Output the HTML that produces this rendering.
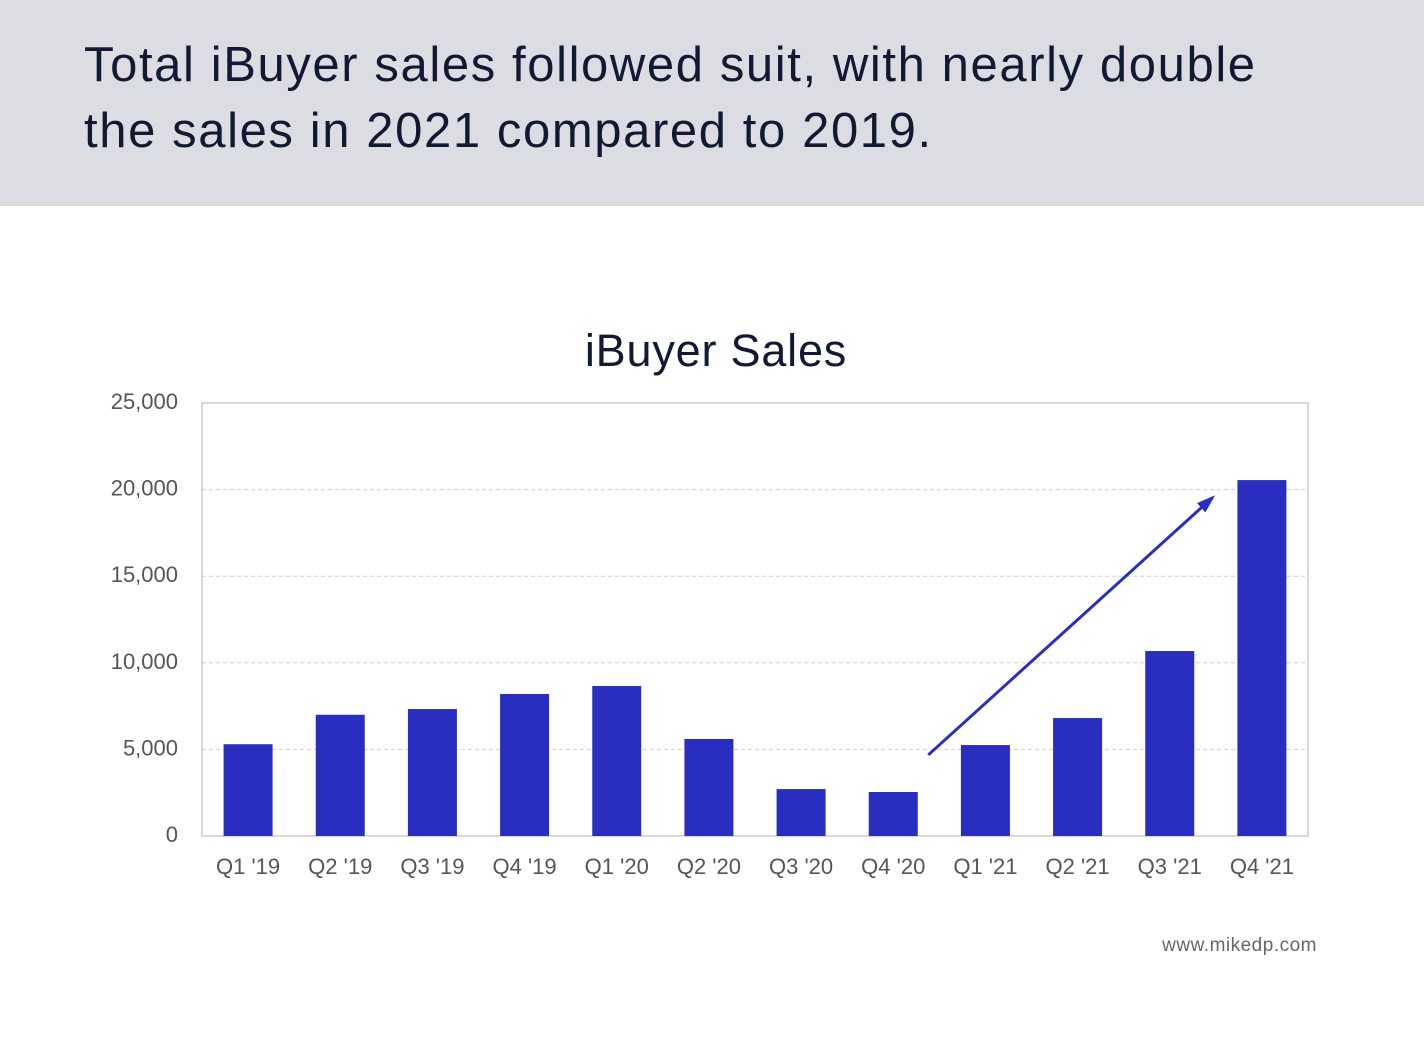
<!DOCTYPE html>
<html><head><meta charset="utf-8"><style>
body{margin:0;width:1424px;height:1059px;background:#fff;font-family:"Liberation Sans",sans-serif;overflow:hidden}
#hdr{position:absolute;left:0;top:0;width:1424px;height:206px;background:#dcdde2}
#hdr h1{position:absolute;left:84px;top:32px;margin:0;font-weight:normal;font-size:49px;line-height:66px;color:#121a33;letter-spacing:1.6px;white-space:nowrap}
svg{position:absolute;left:0;top:0}
</style></head><body>
<div id="hdr"><h1>Total iBuyer sales followed suit, with nearly double<br>the sales in 2021 compared to 2019.</h1></div>
<svg id="c" width="1424" height="1059"></svg>
<script>
const categories=["Q1 '19","Q2 '19","Q3 '19","Q4 '19","Q1 '20","Q2 '20","Q3 '20","Q4 '20","Q1 '21","Q2 '21","Q3 '21","Q4 '21"];
const sales=[5300,7000,7330,8200,8660,5600,2710,2540,5250,6810,10680,20550];
const yTicks=[0,5000,10000,15000,20000,25000];
const yTickLabels=["0","5,000","10,000","15,000","20,000","25,000"];
const trendFrom=[7.88,4680];const trendTo=[10.96,19520];
const NS="http://www.w3.org/2000/svg",svg=document.getElementById('c');
const L=202,R=1308,T=403,B=836,band=(R-L)/categories.length;
const y=v=>B-(v/25000)*(B-T);const x=i=>L+band*(i+0.5);
function mk(t,a,txt){const e=document.createElementNS(NS,t);for(const k in a)e.setAttribute(k,a[k]);if(txt!=null)e.textContent=txt;svg.appendChild(e);return e;}
let e=mk('text',{x:716,y:366,'text-anchor':'middle','font-size':45,fill:'#121a33','letter-spacing':0.8},'iBuyer Sales');


yTicks.forEach((v,i)=>{
 if(v>0&&v<25000){const g=mk('line',{x1:L,x2:R,y1:y(v),y2:y(v),stroke:'#d0d0d0','stroke-dasharray':'4,3'});
 
 }
 const t=mk('text',{x:178,y:y(v)+6,'text-anchor':'end','font-size':22,fill:'#555'},yTickLabels[i]);
 
 
});
const f=mk('rect',{x:L,y:T,width:R-L,height:B-T,fill:'none',stroke:'#ccc','stroke-width':1.5});


sales.forEach((v,i)=>{
 const r=mk('rect',{x:x(i)-24.5,y:y(v),width:49,height:B-y(v),fill:'#2a2ec0'});
 
 
 const t=mk('text',{x:x(i),y:874,'text-anchor':'middle','font-size':22,fill:'#555'},categories[i]);
 
 
});
const x1=L+band*trendFrom[0],y1=y(trendFrom[1]),x2=L+band*trendTo[0],y2=y(trendTo[1]);
const ar=mk('line',{x1:x1,y1:y1,x2:x2,y2:y2,stroke:'#2a2ec0','stroke-width':3});


const ang=Math.atan2(y2-y1,x2-x1),hl=16;
const hp=[[x2+4*Math.cos(ang),y2+4*Math.sin(ang)],[x2-hl*Math.cos(ang-0.4),y2-hl*Math.sin(ang-0.4)],[x2-hl*Math.cos(ang+0.4),y2-hl*Math.sin(ang+0.4)]];
const ah=mk('polygon',{points:hp.map(p=>p.join(',')).join(' '),fill:'#2a2ec0'});


const w=mk('text',{x:1317,y:951,'text-anchor':'end','font-size':19,fill:'#666','letter-spacing':0.5},'www.mikedp.com');


</script>
</body></html>
